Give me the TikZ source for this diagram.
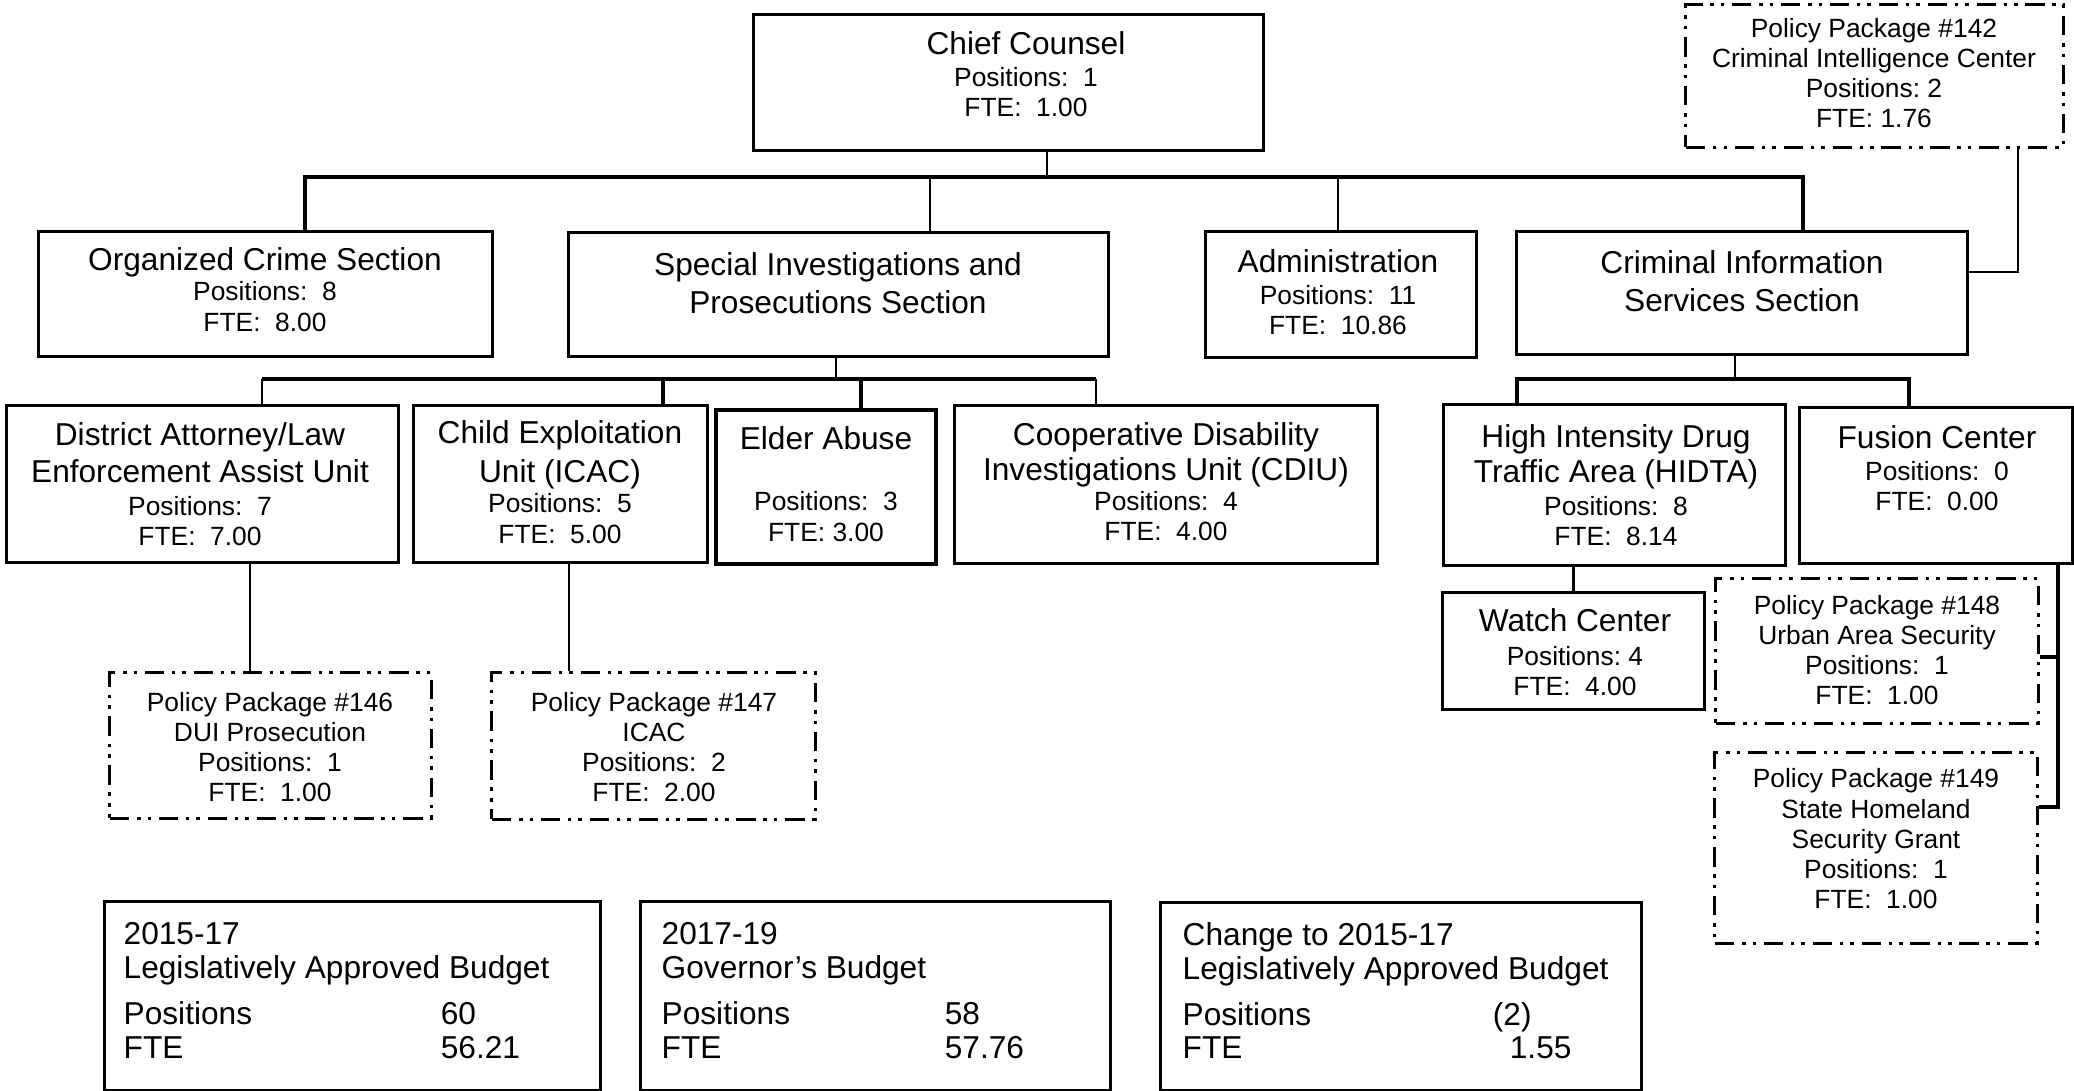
\documentclass[tikz,border=0pt]{standalone}
\usepackage{fontspec}
\setmainfont{Liberation Sans}
\frenchspacing
\newcommand\bigtxt{\fontsize{9}{8.6}\selectfont}
\newcommand\smtxt{\fontsize{7.5}{8.6}\selectfont}
\newcommand\sumtxt{\fontsize{9}{9.6}\selectfont}

\tikzset{
    unit/.style={draw, line width=0.85pt, inner sep=0pt},
    pkg/.style={draw, line width=0.85pt, inner sep=0pt,
        dash pattern=on 5.5pt off 2.2pt on 1pt off 2pt on 1pt off 2.2pt},
    bus/.style={line width=1pt},
    link/.style={line width=0.5pt},
    txt/.style={align=center, font=\smtxt, inner sep=0pt},
    sumt/.style={align=left, anchor=north west, font=\sumtxt, inner sep=0pt}
}

\begin{document}
\begin{tikzpicture}[x=0.01cm, y=-0.01cm]
    \useasboundingbox (0,0) rectangle (2074,1091);

    % boxes
    \node [unit, minimum width=5.09cm, minimum height=1.35cm] (chief) at (1008.5,82.5) {};
    \node [pkg, minimum width=3.77cm, minimum height=1.42cm] (p142) at (1874.5,76) {};
    \node [unit, minimum width=4.53cm, minimum height=1.24cm] (ocs) at (265.5,294) {};
    \node [unit, minimum width=5.39cm, minimum height=1.23cm] (sips) at (838.5,294.5) {};
    \node [unit, minimum width=2.70cm, minimum height=1.25cm] (admin) at (1341,294.5) {};
    \node [unit, minimum width=4.50cm, minimum height=1.22cm] (cis) at (1742,293) {};
    \node [unit, minimum width=3.91cm, minimum height=1.56cm] (da) at (202.5,484) {};
    \node [unit, minimum width=2.93cm, minimum height=1.56cm] (ceu) at (560.5,484) {};
    \node [unit, line width=1pt, minimum width=2.20cm, minimum height=1.54cm] (elder) at (826,487) {};
    \node [unit, minimum width=4.22cm, minimum height=1.57cm] (cdiu) at (1166,484.5) {};
    \node [unit, minimum width=3.41cm, minimum height=1.60cm] (hidta) at (1614.5,485) {};
    \node [unit, minimum width=2.72cm, minimum height=1.55cm] (fusion) at (1936,485.5) {};
    \node [unit, minimum width=2.61cm, minimum height=1.16cm] (watch) at (1573.5,651) {};
    \node [pkg, minimum width=3.21cm, minimum height=1.45cm] (p146) at (270.5,745.5) {};
    \node [pkg, minimum width=3.23cm, minimum height=1.46cm] (p147) at (653.5,746) {};
    \node [pkg, minimum width=3.22cm, minimum height=1.44cm] (p148) at (1877,651) {};
    \node [pkg, minimum width=3.22cm, minimum height=1.90cm] (p149) at (1876,848) {};
    \node [unit, minimum width=4.95cm, minimum height=1.88cm] (lab) at (352.5,996) {};
    \node [unit, minimum width=4.69cm, minimum height=1.88cm] (gov) at (875.5,996) {};
    \node [unit, minimum width=4.80cm, minimum height=1.87cm] (chg) at (1401,996.5) {};

    % texts
    \node [txt] (chiefT) at (1026,74) {{\bigtxt Chief Counsel}\\[0.6pt]Positions:~~1\\FTE:~~1.00};
    \node [txt] (p142T) at (1874,73) {Policy Package \#142\\Criminal Intelligence Center\\Positions: 2\\FTE: 1.76};
    \node [txt] (ocsT) at (265,289.5) {{\bigtxt Organized Crime Section}\\Positions:~~8\\FTE:~~8.00};
    \node [txt] (sipsT) at (838,283) {{\bigtxt Special Investigations and}\\[2.2pt]{\bigtxt Prosecutions Section}};
    \node [txt] (adminT) at (1338,292.5) {{\bigtxt Administration}\\[0.5pt]Positions:~~11\\FTE:~~10.86};
    \node [txt] (cisT) at (1742,281) {{\bigtxt Criminal Information}\\[2.2pt]{\bigtxt Services Section}};
    \node [txt] (daT) at (200,484) {{\bigtxt District Attorney/Law}\\[2pt]{\bigtxt Enforcement Assist Unit}\\[0.8pt]Positions:~~7\\FTE:~~7.00};
    \node [txt] (ceuT) at (560,482) {{\bigtxt Child Exploitation}\\[2.5pt]{\bigtxt Unit (ICAC)}\\Positions:~~5\\FTE:~~5.00};
    \node [txt] (elderT) at (826,484) {{\bigtxt Elder Abuse}\\[8.8pt]Positions:~~3\\FTE: 3.00};
    \node [txt] (cdiuT) at (1166,482) {{\bigtxt Cooperative Disability}\\[1.3pt]{\bigtxt Investigations Unit (CDIU)}\\Positions:~~4\\FTE:~~4.00};
    \node [txt] (hidtaT) at (1616,485) {{\bigtxt High Intensity Drug}\\[1.3pt]{\bigtxt Traffic Area (HIDTA)}\\[0.8pt]Positions:~~8\\FTE:~~8.14};
    \node [txt] (fusionT) at (1937,468) {{\bigtxt Fusion Center}\\[0.5pt]Positions:~~0\\FTE:~~0.00};
    \node [txt] (watchT) at (1575,652) {{\bigtxt Watch Center}\\[1pt]Positions: 4\\FTE:~~4.00};
    \node [txt] (p146T) at (270,747) {Policy Package \#146\\DUI Prosecution\\Positions:~~1\\FTE:~~1.00};
    \node [txt] (p147T) at (654,747) {Policy Package \#147\\ICAC\\Positions:~~2\\FTE:~~2.00};
    \node [txt] (p148T) at (1877,650) {Policy Package \#148\\Urban Area Security\\Positions:~~1\\FTE:~~1.00};
    \node [txt] (p149T) at (1876,839) {Policy Package \#149\\State Homeland\\Security Grant\\Positions:~~1\\FTE:~~1.00};

    % budget summaries
    \node [sumt] (labT) at (123,922) {2015-17\\Legislatively Approved Budget\\[3.4pt]\makebox[3.17cm][l]{Positions}60\\\makebox[3.17cm][l]{FTE}56.21};
    \node [sumt] (govT) at (661,922) {2017-19\\Governor’s Budget\\[3.4pt]\makebox[2.83cm][l]{Positions}58\\\makebox[2.83cm][l]{FTE}57.76};
    \node [sumt] (chgT) at (1182,922) {Change to 2015-17\\Legislatively Approved Budget\\[3.4pt]\makebox[3.10cm][l]{Positions}(2)\\\makebox[3.27cm][l]{FTE}1.55};

    % top level lines
    \coordinate (t0) at (1047,177);
    \coordinate (t1) at (305,177);
    \coordinate (t2) at (930,177);
    \coordinate (t3) at (1338,177);
    \coordinate (t4) at (1803,177);
    \draw [link, line width=0.7pt] (t0 |- chief.south) -- (t0);
    \draw [bus, line width=1.1pt] (t1 |- ocs.north) -- (t1) -- (t4) -- (t4 |- cis.north);
    \draw [link] (t2) -- (t2 |- sips.north);
    \draw [link] (t3) -- (t3 |- admin.north);

    % policy package 142
    \coordinate (k4) at (2018,272);
    \draw [bus, line width=0.8pt] (k4 |- p142.south) -- (k4) -- (k4 -| cis.east);

    % special investigations units
    \coordinate (s0) at (836,379);
    \coordinate (s1) at (262,379);
    \coordinate (s2) at (663,379);
    \coordinate (s3) at (861,379);
    \coordinate (s4) at (1096,379);
    \draw [link] (s0 |- sips.south) -- (s0);
    \draw [bus, line width=1.2pt] (s1) -- (s4);
    \draw [link] (s1) -- (s1 |- da.north);
    \draw [bus] (s2) -- (s2 |- ceu.north);
    \draw [bus] (s3) -- (s3 |- elder.north);
    \draw [link] (s4) -- (s4 |- cdiu.north);

    % criminal information units
    \coordinate (c0) at (1735,379);
    \coordinate (c1) at (1517,379);
    \coordinate (c2) at (1909,379);
    \draw [link, line width=0.7pt] (c0 |- cis.south) -- (c0);
    \draw [bus] (c1 |- hidta.north) -- (c1) -- (c2) -- (c2 |- fusion.north);
    \draw [bus] (watch.north) -- (watch.north |- hidta.south);

    % policy packages below units
    \coordinate (k1) at (250,0);
    \coordinate (k2) at (569,0);
    \draw [link] (k1 |- da.south) -- (k1 |- p146.north);
    \draw [bus, line width=0.8pt] (k2 |- ceu.south) -- (k2 |- p147.north);

    % fusion center packages
    \coordinate (k5) at (2058,657);
    \coordinate (k6) at (2058,807);
    \draw [bus] (k5 |- fusion.south) -- (k6) -- (k6 -| p149.east);
    \draw [bus] (k5) -- (k5 -| p148.east);
\end{tikzpicture}
\end{document}
